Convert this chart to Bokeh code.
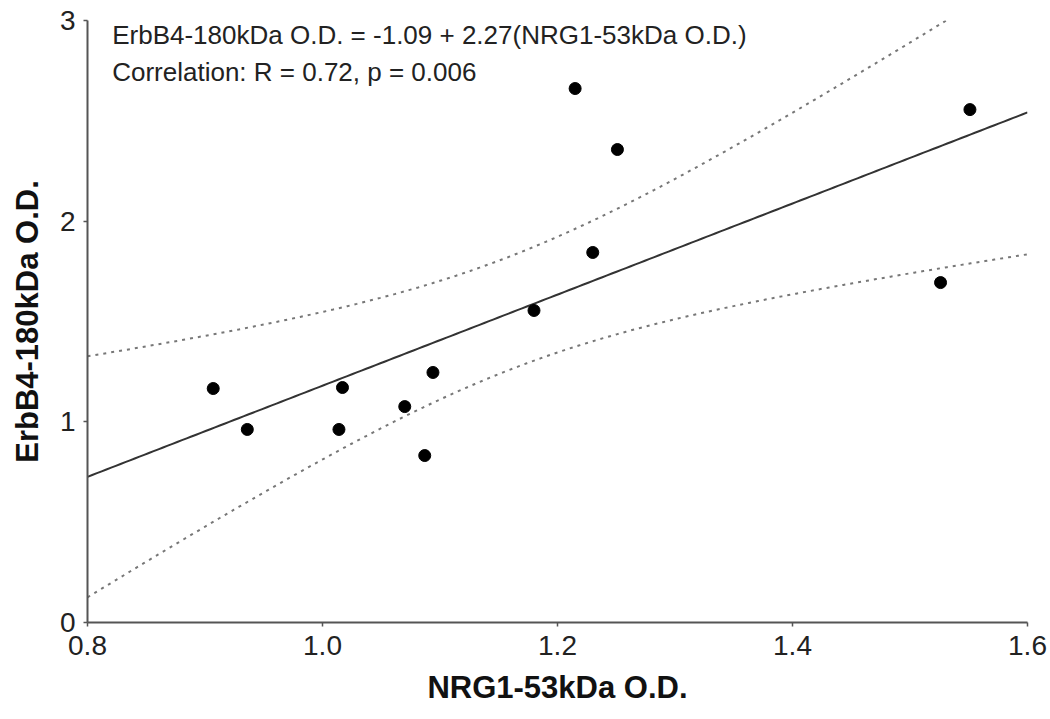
import numpy as np
from bokeh.plotting import figure
from bokeh.models import FixedTicker, NumeralTickFormatter, Label, ColumnDataSource
from bokeh.embed import file_html
from bokeh.resources import INLINE

# Data
nrg1_od = [0.907, 0.936, 1.017, 1.014, 1.070, 1.087, 1.094, 1.180, 1.215, 1.230, 1.251, 1.526, 1.551]
erbb4_od = [1.166, 0.962, 1.171, 0.962, 1.076, 0.832, 1.246, 1.555, 2.661, 1.844, 2.357, 1.694, 2.556]

intercept = -1.09
slope = 2.27
t_crit = 2.201  # t(0.975, df = n - 2 = 11)

x_ticks = [0.8, 1.0, 1.2, 1.4, 1.6]
y_ticks = [0, 1, 2, 3]

x_title = "NRG1-53kDa O.D."
y_title = "ErbB4-180kDa O.D."
eq_text = "ErbB4-180kDa O.D. = -1.09 + 2.27(NRG1-53kDa O.D.)"
corr_text = "Correlation: R = 0.72, p = 0.006"

# Regression line and 95% confidence band of the fitted mean
xa = np.array(nrg1_od)
ya = np.array(erbb4_od)
n = len(xa)
resid = ya - (intercept + slope * xa)
s = np.sqrt(np.sum(resid ** 2) / (n - 2))
xm = xa.mean()
sxx = np.sum((xa - xm) ** 2)
xg = np.linspace(x_ticks[0], x_ticks[-1], 200)
yfit = intercept + slope * xg
half = t_crit * s * np.sqrt(1.0 / n + (xg - xm) ** 2 / sxx)
band = ColumnDataSource(dict(x=xg, fit=yfit, lo=yfit - half, hi=yfit + half))

p = figure(width=1050, height=719, output_backend="svg", toolbar_location=None,
           x_range=(0.8, 1.6), y_range=(0, 3),
           min_border_left=87, min_border_right=23, min_border_top=20, min_border_bottom=97)
p.outline_line_color = None
p.grid.visible = False
p.background_fill_color = "white"
p.border_fill_color = "white"

p.line("x", "hi", source=band, line_color="#777777", line_width=2, line_dash="3 5")
p.line("x", "lo", source=band, line_color="#777777", line_width=2, line_dash="3 5")
p.line("x", "fit", source=band, line_color="#333333", line_width=2)
p.scatter(nrg1_od, erbb4_od, size=12, color="black")

for ax in (p.xaxis[0], p.yaxis[0]):
    ax.axis_line_color = "#555555"
    ax.axis_line_width = 2
    ax.major_tick_line_color = "#555555"
    ax.major_tick_line_width = 1.5
    ax.major_tick_out = 4
    ax.major_tick_in = 0
    ax.minor_tick_line_color = None
    ax.major_label_text_font = "Liberation Sans"
    ax.major_label_text_font_size = "28px"
    ax.major_label_text_color = "#222222"
    ax.axis_label_text_font = "Liberation Sans"
    ax.axis_label_text_font_size = "31px"
    ax.axis_label_text_font_style = "bold"
    ax.axis_label_text_color = "#111111"

p.xaxis.ticker = FixedTicker(ticks=x_ticks)
p.xaxis.formatter = NumeralTickFormatter(format="0.0")
p.xaxis.major_label_standoff = 9
p.xaxis.axis_label = x_title
p.xaxis.axis_label_standoff = 12

p.yaxis.ticker = FixedTicker(ticks=y_ticks)
p.yaxis.formatter = NumeralTickFormatter(format="0")
p.yaxis.major_label_standoff = 8
p.yaxis.axis_label = y_title
p.yaxis.axis_label_standoff = 12

p.add_layout(Label(x=0.821, y=2.93, text=eq_text, text_font="Liberation Sans",
                   text_font_size="26px", text_color="#222222", text_baseline="alphabetic"))
p.add_layout(Label(x=0.821, y=2.745, text=corr_text, text_font="Liberation Sans",
                   text_font_size="26px", text_color="#222222", text_baseline="alphabetic"))

open("out.html", "w").write(file_html(p, INLINE))
